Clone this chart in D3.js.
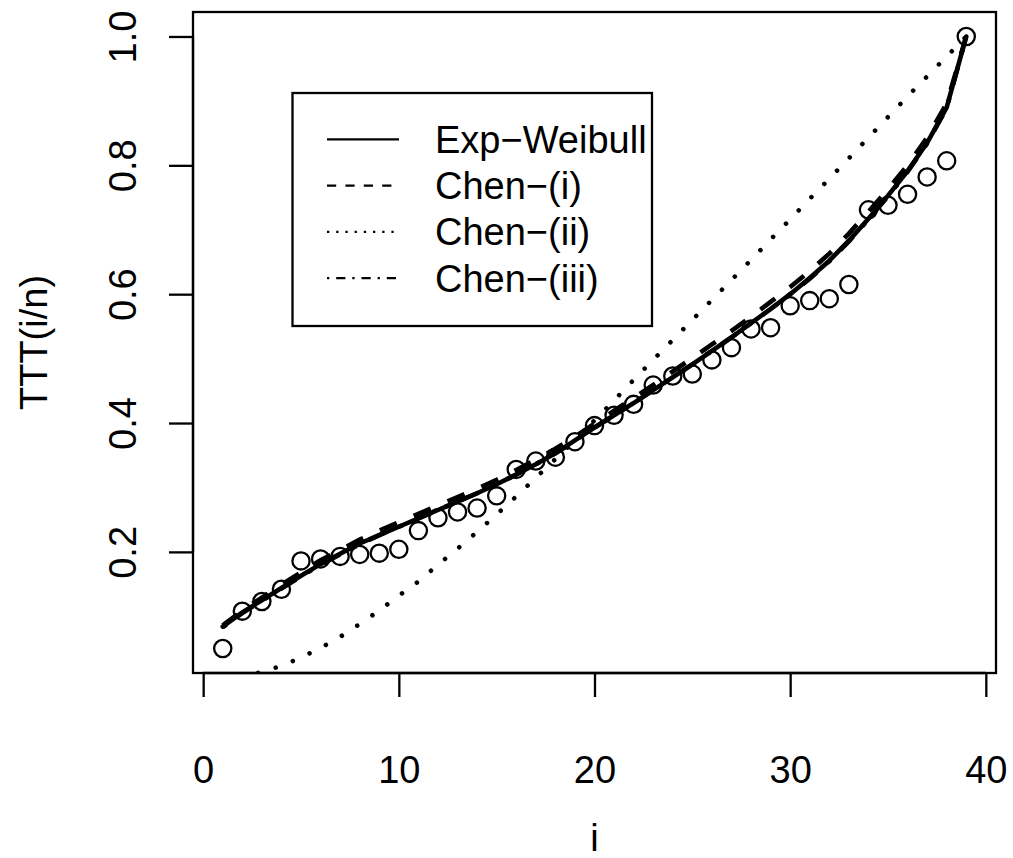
<!DOCTYPE html>
<html>
<head>
<meta charset="utf-8">
<script src="https://cdn.jsdelivr.net/npm/d3@7"></script>
<style>
  html, body { margin: 0; padding: 0; background: #fff; }
  svg { display: block; }
  text { font-family: "Liberation Sans", Arial, Helvetica, sans-serif; fill: #000; }
</style>
</head>
<body>
<svg id="chart" width="1013" height="858"></svg>
<script>
// ---- data ----
const idx = d3.range(1, 40);
const ttt = [0.050,0.108,0.123,0.142,0.186,0.189,0.193,0.196,0.198,0.204,
             0.233,0.253,0.262,0.268,0.287,0.328,0.341,0.347,0.371,0.396,
             0.412,0.429,0.459,0.473,0.476,0.498,0.517,0.546,0.548,0.582,
             0.590,0.593,0.615,0.731,0.738,0.755,0.782,0.807,1.000];
const expWeibull = [0.084,0.106,0.125,0.144,0.163,0.181,0.197,0.213,0.226,0.239,
             0.252,0.265,0.278,0.291,0.305,0.320,0.336,0.353,0.373,0.393,
             0.412,0.431,0.451,0.471,0.491,0.512,0.533,0.555,0.577,0.600,
             0.625,0.652,0.683,0.717,0.753,0.791,0.835,0.890,1.000];
const chenI = [0.086,0.109,0.129,0.149,0.168,0.187,0.203,0.219,0.233,0.246,
             0.259,0.272,0.285,0.298,0.312,0.327,0.343,0.360,0.379,0.399,
             0.419,0.439,0.459,0.480,0.501,0.522,0.543,0.565,0.588,0.611,
             0.636,0.663,0.694,0.728,0.763,0.800,0.843,0.896,1.000];
const chenII = [-0.004,0.005,0.014,0.023,0.036,0.051,0.068,0.088,0.109,0.132,
             0.154,0.180,0.205,0.231,0.258,0.286,0.315,0.344,0.373,0.404,
             0.435,0.467,0.498,0.529,0.560,0.591,0.622,0.653,0.685,0.716,
             0.748,0.779,0.811,0.843,0.875,0.907,0.938,0.969,1.000];
const chenIII = [0.083,0.105,0.124,0.143,0.162,0.180,0.196,0.212,0.226,0.239,
             0.252,0.265,0.278,0.291,0.305,0.320,0.336,0.353,0.372,0.393,
             0.412,0.431,0.451,0.471,0.491,0.512,0.533,0.555,0.577,0.600,
             0.624,0.651,0.682,0.716,0.752,0.790,0.834,0.889,1.000];
const xTicks = [0, 10, 20, 30, 40];
const yTicks = [0.2, 0.4, 0.6, 0.8, 1.0];
const legendLabels = ["Exp\u2212Weibull", "Chen\u2212(i)", "Chen\u2212(ii)", "Chen\u2212(iii)"];
const xLabel = "i";
const yLabel = "TTT(i/n)";

// ---- layout ----
const W = 1013, H = 858;
const m = {left: 193, right: 17, top: 12, bottom: 185};
const u = 2.3;          // one R line-width unit in px
const fs = 38;          // font size
const svg = d3.select("#chart");

function ext(lo, hi) { const r = hi - lo; return [lo - 0.04 * r, hi + 0.04 * r]; }
const xs = d3.scaleLinear().domain(ext(d3.min(idx), d3.max(idx))).range([m.left, W - m.right]);
const ys = d3.scaleLinear().domain(ext(d3.min(ttt), d3.max(ttt))).range([H - m.bottom, m.top]);

svg.append("rect").attr("width", W).attr("height", H).attr("fill", "#fff");

svg.append("defs").append("clipPath").attr("id", "plotclip")
  .append("rect").attr("x", m.left).attr("y", m.top)
  .attr("width", W - m.left - m.right).attr("height", H - m.top - m.bottom);

const plot = svg.append("g").attr("clip-path", "url(#plotclip)");

const series = [
  {vals: expWeibull, dash: null, cap: "round"},
  {vals: chenI, dash: [8 * u, 8 * u], cap: "butt"},
  {vals: chenII, dash: [0.01, 8 * u - 0.01], cap: "round"},
  {vals: chenIII, dash: [2 * u, 6 * u, 8 * u, 6 * u], cap: "butt"}
];
const line = d3.line().x((d, k) => xs(idx[k])).y(d => ys(d));

plot.selectAll("circle.pt").data(ttt).join("circle")
  .attr("class", "pt")
  .attr("cx", (d, k) => xs(idx[k])).attr("cy", d => ys(d))
  .attr("r", 8.6).attr("fill", "none").attr("stroke", "#000").attr("stroke-width", u);

series.forEach(s => {
  plot.append("path").datum(s.vals).attr("d", line)
    .attr("fill", "none").attr("stroke", "#000").attr("stroke-width", 2 * u)
    .attr("stroke-linecap", s.cap).attr("stroke-linejoin", "round")
    .attr("stroke-dasharray", s.dash ? s.dash.join(",") : null);
});

// box
svg.append("rect").attr("x", m.left).attr("y", m.top)
  .attr("width", W - m.left - m.right).attr("height", H - m.top - m.bottom)
  .attr("fill", "none").attr("stroke", "#000").attr("stroke-width", u);

// x axis
const xAxisY = H - m.bottom;
const gx = svg.append("g").attr("transform", `translate(0,${xAxisY})`)
  .call(d3.axisBottom(xs).tickValues(xTicks).tickSize(24).tickPadding(0).tickFormat(d3.format("d")));
gx.select(".domain").attr("d", `M${xs(xTicks[0])},0H${xs(xTicks[xTicks.length-1])}`)
  .attr("stroke", "#000").attr("stroke-width", u);
gx.selectAll(".tick line").attr("stroke", "#000").attr("stroke-width", u);
gx.selectAll(".tick text").attr("font-size", fs).attr("dy", null).attr("y", 110)
  .attr("font-family", "Liberation Sans, Arial, sans-serif").attr("fill", "#000");

// y axis
const gy = svg.append("g").attr("transform", `translate(${m.left},0)`)
  .call(d3.axisLeft(ys).tickValues(yTicks).tickSize(24).tickFormat(d3.format(".1f")));
gy.select(".domain").attr("d", `M0,${ys(yTicks[0])}V${ys(yTicks[yTicks.length-1])}`)
  .attr("stroke", "#000").attr("stroke-width", u);
gy.selectAll(".tick line").attr("stroke", "#000").attr("stroke-width", u);
gy.selectAll(".tick text").attr("font-size", fs)
  .attr("x", null).attr("dy", null).attr("text-anchor", "middle")
  .attr("transform", "translate(-57,0) rotate(-90)").attr("y", 0)
  .attr("font-family", "Liberation Sans, Arial, sans-serif").attr("fill", "#000");

// axis titles
svg.append("text").attr("x", (m.left + W - m.right) / 2).attr("y", 851)
  .attr("text-anchor", "middle").attr("font-size", fs).text(xLabel);
svg.append("text").attr("transform", `translate(47,${(m.top + H - m.bottom) / 2}) rotate(-90)`)
  .attr("text-anchor", "middle").attr("font-size", fs).text(yLabel);

// legend
const lg = svg.append("g");
lg.append("rect").attr("x", 292.5).attr("y", 93).attr("width", 359.5).attr("height", 233)
  .attr("fill", "#fff").attr("stroke", "#000").attr("stroke-width", u);
const legDash = [null, [4 * u, 4 * u], [u, 3 * u], [u, 3 * u, 4 * u, 3 * u]];
legendLabels.forEach((lab, k) => {
  const yy = 139.3 + k * 46.3;
  lg.append("line").attr("x1", 327).attr("x2", 399).attr("y1", yy).attr("y2", yy)
    .attr("stroke", "#000").attr("stroke-width", u).attr("stroke-linecap", "butt")
    .attr("stroke-dasharray", legDash[k] ? legDash[k].join(",") : null);
  lg.append("text").attr("x", 435).attr("y", yy).attr("dy", "0.35em")
    .attr("font-size", fs).text(lab);
});
</script>
</body>
</html>
